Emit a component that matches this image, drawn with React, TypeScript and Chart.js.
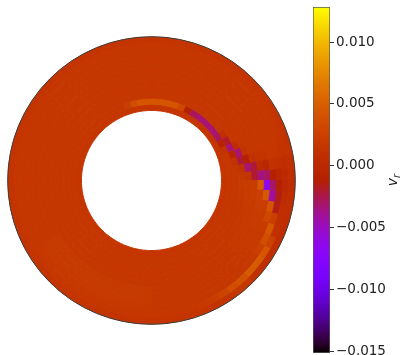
import React, { useEffect, useRef } from "react";
import { Chart, registerables } from "chart.js";
Chart.register(...registerables);

// colour-bar range and ticks (v_r)
const CB_MIN = -0.01516;
const CB_MAX = 0.01284;
const CB_TICKS = [-0.015, -0.01, -0.005, 0, 0.005, 0.01];

// grid values of v_r in units of 1e-3; ring R0 = outermost, R11 = innermost.
// each ring: 72 sectors of 5 degrees, clockwise from the top.
const VALUE_UNIT = 1e-3;
const R0 = [
  1.3,1.3,1.3,1.3,1.3,1.3,1.3,1.3,1.3,1.3,1.3,1.3,
  1.3,1.2,1.1,1.0,0.8,0.5,0.4,0.6,0.5,0.5,0.5,0.6,
  0.7,0.8,0.9,1.6,1.6,1.2,1.2,1.3,1.3,1.3,1.3,1.3,
  1.3,1.3,1.2,1.2,1.3,1.3,1.3,1.4,1.3,1.3,1.2,1.3,
  1.3,1.3,1.3,1.3,1.2,1.2,1.3,1.3,1.3,1.3,1.3,1.3,
  1.3,1.3,1.3,1.4,1.3,1.3,1.3,1.3,1.3,1.3,1.3,1.3,
];
const R1 = [
  1.5,1.5,1.5,1.5,1.5,1.5,1.5,1.5,1.5,1.5,1.5,1.5,
  1.5,1.4,1.3,1.0,0.6,0.2,0.0,0.3,0.6,0.8,1.0,2.6,
  4.2,4.6,4.6,4.0,3.6,2.8,2.1,1.7,1.5,1.5,1.5,1.5,
  1.5,1.5,1.6,1.6,1.5,1.5,1.5,1.5,1.6,1.6,1.5,1.5,
  1.5,1.5,1.5,1.5,1.5,1.6,1.6,1.5,1.5,1.5,1.5,1.5,
  1.5,1.5,1.5,1.5,1.5,1.5,1.5,1.5,1.5,1.5,1.5,1.5,
];
const R2 = [
  1.6,1.6,1.6,1.6,1.6,1.6,1.6,1.6,1.6,1.6,1.6,1.6,
  1.6,1.6,1.5,1.4,0.8,-0.3,-1.2,-1.6,-1.5,2.4,4.4,3.6,
  2.4,1.8,1.7,1.6,1.6,1.6,1.6,1.6,1.6,1.6,1.6,1.6,
  1.7,1.7,1.7,1.7,1.7,1.7,1.7,1.7,1.7,1.7,1.7,1.7,
  1.6,1.6,1.6,1.6,1.6,1.6,1.6,1.6,1.6,1.6,1.6,1.6,
  1.6,1.6,1.6,1.6,1.6,1.6,1.6,1.6,1.6,1.6,1.6,1.6,
];
const R3 = [
  1.5,1.5,1.5,1.5,1.5,1.5,1.5,1.5,1.5,1.5,1.5,1.5,
  1.5,1.5,1.5,1.5,1.0,-1.0,-3.0,-4.2,4.2,3.2,2.0,1.8,
  1.8,1.7,1.6,1.5,1.5,1.5,1.5,1.5,1.5,1.5,1.5,1.5,
  1.8,1.8,1.8,1.8,1.8,1.8,1.8,1.8,1.8,1.8,1.8,1.8,
  1.5,1.5,1.5,1.5,1.5,1.5,1.5,1.5,1.5,1.5,1.5,1.5,
  1.5,1.5,1.5,1.5,1.5,1.5,1.5,1.5,1.5,1.5,1.5,1.5,
];
const R4 = [
  1.6,1.6,1.6,1.6,1.6,1.6,1.6,1.6,1.6,1.6,1.6,1.6,
  1.6,1.6,1.5,1.3,-0.3,-3.0,-6.5,4.5,2.2,2.0,1.9,1.8,
  1.8,1.7,1.7,1.6,1.6,1.6,1.6,1.6,1.6,1.6,1.6,1.6,
  1.8,1.8,1.8,1.8,1.8,1.8,1.8,1.8,1.8,1.8,1.8,1.8,
  1.6,1.6,1.6,1.6,1.6,1.6,1.6,1.6,1.6,1.6,1.6,1.6,
  1.6,1.6,1.6,1.6,1.6,1.6,1.6,1.6,1.6,1.6,1.6,1.6,
];
const R5 = [
  1.5,1.5,1.5,1.5,1.5,1.5,1.5,1.5,1.5,1.5,1.5,1.5,
  1.5,1.5,1.5,1.2,0.2,-3.5,4.5,2.5,2.2,2.0,1.9,1.8,
  1.8,1.7,1.6,1.5,1.5,1.5,1.5,1.5,1.5,1.5,1.5,1.5,
  1.8,1.8,1.8,1.8,1.8,1.8,1.8,1.8,1.8,1.8,1.8,1.8,
  1.5,1.5,1.5,1.5,1.5,1.5,1.5,1.5,1.5,1.5,1.5,1.5,
  1.5,1.5,1.5,1.5,1.5,1.5,1.5,1.5,1.5,1.5,1.5,1.5,
];
const R6 = [
  1.6,1.6,1.6,1.6,1.6,1.6,1.6,1.6,1.6,1.6,1.6,1.6,
  1.6,1.6,1.5,0.9,-2.2,-2.0,2.2,2.2,2.0,1.8,1.8,1.8,
  1.7,1.7,1.6,1.6,1.6,1.6,1.6,1.6,1.6,1.6,1.6,1.6,
  1.6,1.6,1.6,1.6,1.6,1.6,1.6,1.6,1.6,1.6,1.6,1.6,
  1.6,1.6,1.6,1.6,1.6,1.6,1.6,1.6,1.6,1.6,1.6,1.6,
  1.6,1.6,1.6,1.6,1.6,1.6,1.6,1.6,1.6,1.6,1.6,1.6,
];
const R7 = [
  1.5,1.5,1.5,1.5,1.5,1.5,1.5,1.5,1.5,1.5,1.5,1.5,
  1.5,1.5,1.2,-1.2,-3.2,1.2,2.0,2.0,1.9,1.8,1.7,1.6,
  1.6,1.5,1.5,1.5,1.5,1.5,1.5,1.5,1.5,1.5,1.5,1.5,
  1.5,1.5,1.5,1.5,1.5,1.5,1.5,1.5,1.5,1.5,1.5,1.5,
  1.5,1.5,1.5,1.5,1.5,1.5,1.5,1.5,1.5,1.5,1.5,1.5,
  1.5,1.5,1.5,1.5,1.5,1.5,1.5,1.5,1.5,1.5,1.5,1.5,
];
const R8 = [
  1.5,1.5,1.5,1.5,1.5,1.5,1.5,1.5,1.5,1.5,1.5,1.5,
  1.5,0.6,-3.2,-2.2,1.0,1.6,1.9,1.8,1.7,1.6,1.6,1.6,
  1.5,1.5,1.5,1.5,1.5,1.5,1.5,1.5,1.5,1.5,1.5,1.5,
  1.5,1.5,1.5,1.5,1.5,1.5,1.5,1.5,1.5,1.5,1.5,1.5,
  1.5,1.5,1.5,1.5,1.5,1.5,1.5,1.5,1.5,1.5,1.5,1.5,
  1.5,1.5,1.5,1.5,1.5,1.5,1.5,1.5,1.5,1.5,1.5,1.5,
];
const R9 = [
  1.6,1.6,1.6,1.6,1.6,1.6,1.6,1.6,1.6,1.6,1.6,0.7,
  -1.8,-3.2,-0.4,1.0,1.5,1.6,1.6,1.6,1.6,1.6,1.6,1.6,
  1.6,1.6,1.6,1.6,1.6,1.6,1.6,1.6,1.6,1.6,1.6,1.6,
  1.6,1.6,1.6,1.6,1.6,1.6,1.6,1.6,1.6,1.6,1.6,1.6,
  1.6,1.6,1.6,1.6,1.6,1.6,1.6,1.6,1.6,1.6,1.6,1.6,
  1.6,1.6,1.6,1.6,1.6,1.6,1.6,1.6,1.6,1.6,1.6,1.6,
];
const R10 = [
  4.2,4.2,4.2,4.2,3.2,-1.2,-2.8,-3.2,-3.2,-3.2,-3.2,-2.8,
  -0.8,1.0,1.5,1.5,1.5,1.5,1.5,1.5,1.5,1.5,1.5,1.5,
  1.5,1.5,1.5,1.5,1.5,1.5,1.5,1.5,1.5,1.5,1.5,1.5,
  1.5,1.5,1.5,1.5,1.5,1.5,1.5,1.5,1.5,1.5,1.5,1.5,
  1.5,1.5,1.5,1.5,1.5,1.5,1.5,1.5,1.5,1.5,1.5,1.5,
  1.5,1.5,1.5,1.5,1.5,1.5,1.5,1.5,2.3,3.6,4.2,4.2,
];
const R11 = [
  1.4,1.4,1.4,1.4,1.4,1.4,1.4,1.4,1.4,1.4,1.4,1.4,
  1.4,1.4,1.4,1.4,1.4,1.4,1.4,1.4,1.4,1.4,1.4,1.4,
  1.4,1.4,1.4,1.4,1.4,1.4,1.4,1.4,1.4,1.4,1.4,1.4,
  1.4,1.4,1.4,1.4,1.4,1.4,1.4,1.4,1.4,1.4,1.4,1.4,
  1.4,1.4,1.4,1.4,1.4,1.4,1.4,1.4,1.4,1.4,1.4,1.4,
  1.4,1.4,1.4,1.4,1.4,1.4,1.4,1.4,1.4,1.4,1.4,1.4,
];
const RINGS = [R0, R1, R2, R3, R4, R5, R6, R7, R8, R9, R10, R11];

// matplotlib "gnuplot" colormap
function gnuplot(t: number): string {
  const x = Math.min(1, Math.max(0, t));
  const r = Math.sqrt(x);
  const g = x * x * x;
  const b = Math.max(0, Math.min(1, Math.sin(2 * Math.PI * x)));
  return `rgb(${Math.round(r * 255)},${Math.round(g * 255)},${Math.round(b * 255)})`;
}
function colorFor(v: number): string {
  return gnuplot((v * VALUE_UNIT - CB_MIN) / (CB_MAX - CB_MIN));
}
function fmt(v: number): string {
  if (Math.abs(v) < 1e-12) return "0.000";
  return (v < 0 ? "\u2212" : "") + Math.abs(v).toFixed(3);
}

export default function App() {
  const polarRef = useRef<HTMLCanvasElement>(null);
  const barRef = useRef<HTMLCanvasElement>(null);

  useEffect(() => {
    const edge = {
      id: "edge",
      afterDatasetsDraw(chart: any) {
        const arc: any = chart.getDatasetMeta(0).data[0];
        if (!arc) return;
        const ctx = chart.ctx;
        ctx.save();
        ctx.beginPath();
        ctx.arc(arc.x, arc.y, arc.outerRadius + 0.3, 0, Math.PI * 2);
        ctx.strokeStyle = "#3c3c3c";
        ctx.lineWidth = 1;
        ctx.stroke();
        ctx.restore();
      },
    };
    const c1 = new Chart(polarRef.current as HTMLCanvasElement, {
      type: "doughnut",
      data: {
        labels: RINGS[0].map((_, i) => String(i * 5)),
        datasets: RINGS.map((row) => ({
          data: row.map(() => 1),
          backgroundColor: row.map(colorFor),
          borderColor: row.map(colorFor),
          borderWidth: 1,
          hoverOffset: 0,
        })),
      },
      options: {
        responsive: false,
        animation: false,
        devicePixelRatio: 1,
        cutout: "48.8%",
        events: [],
        layout: { padding: 0.5 },
        plugins: { legend: { display: false }, tooltip: { enabled: false } },
      } as any,
      plugins: [edge],
    });

    const cbLabel = {
      id: "cbLabel",
      afterDraw(chart: any) {
        const ctx = chart.ctx;
        const area = chart.chartArea;
        const cy = (area.top + area.bottom) / 2;
        ctx.save();
        ctx.translate(80, cy);
        ctx.rotate(-Math.PI / 2);
        ctx.fillStyle = "#222";
        ctx.textBaseline = "alphabetic";
        ctx.font = 'italic 14px "DejaVu Sans"';
        const wv = ctx.measureText("v").width;
        ctx.font = 'italic 10px "DejaVu Sans"';
        const wr = ctx.measureText("r").width;
        const x0 = -(wv + wr) / 2;
        ctx.font = 'italic 14px "DejaVu Sans"';
        ctx.fillText("v", x0, 4);
        ctx.font = 'italic 10px "DejaVu Sans"';
        ctx.fillText("r", x0 + wv, 7);
        ctx.restore();
      },
    };

    const c2 = new Chart(barRef.current as HTMLCanvasElement, {
      type: "bar",
      data: {
        labels: ["v_r"],
        datasets: [
          {
            data: [[CB_MIN, CB_MAX]],
            backgroundColor: (c: any) => {
              const chart = c.chart;
              const area = chart.chartArea;
              if (!area) return "#c33";
              const y = chart.scales.y;
              const g = chart.ctx.createLinearGradient(0, y.getPixelForValue(CB_MIN), 0, y.getPixelForValue(CB_MAX));
              const n = 40;
              for (let i = 0; i <= n; i++) g.addColorStop(i / n, gnuplot(i / n));
              return g;
            },
            borderColor: "#5a5a5a",
            borderWidth: 1,
            borderSkipped: false,
            barPercentage: 1,
            categoryPercentage: 1,
          } as any,
        ],
      },
      options: {
        responsive: false,
        animation: false,
        devicePixelRatio: 1,
        events: [],
        layout: { padding: { top: 7, bottom: 2, left: 0, right: 0 } },
        plugins: { legend: { display: false }, tooltip: { enabled: false } },
        scales: {
          x: { display: false },
          y: {
            position: "right",
            min: CB_MIN,
            max: CB_MAX,
            afterBuildTicks: (s: any) => {
              s.ticks = CB_TICKS.map((v) => ({ value: v }));
            },
            afterFit: (s: any) => {
              s.width = 72;
              s.paddingTop = 0;
              s.paddingBottom = 0;
            },
            grid: { drawOnChartArea: false, drawTicks: true, tickLength: 4, color: "#333", lineWidth: 1 },
            border: { display: false },
            ticks: {
              padding: 2,
              color: "#222",
              font: { family: "DejaVu Sans", size: 13.5 },
              callback: (v: any) => fmt(Number(v)),
            },
          },
        },
      } as any,
      plugins: [cbLabel],
    });

    return () => {
      c1.destroy();
      c2.destroy();
    };
  }, []);

  return (
    <div style={{ position: "fixed", left: 0, top: 0, width: 402, height: 355, background: "#fff" }}>
      <canvas ref={polarRef} width={289} height={289} style={{ position: "absolute", left: 7, top: 36, width: 289, height: 289 }} />
      <canvas ref={barRef} width={89} height={355} style={{ position: "absolute", left: 313, top: 0, width: 89, height: 355 }} />
    </div>
  );
}
